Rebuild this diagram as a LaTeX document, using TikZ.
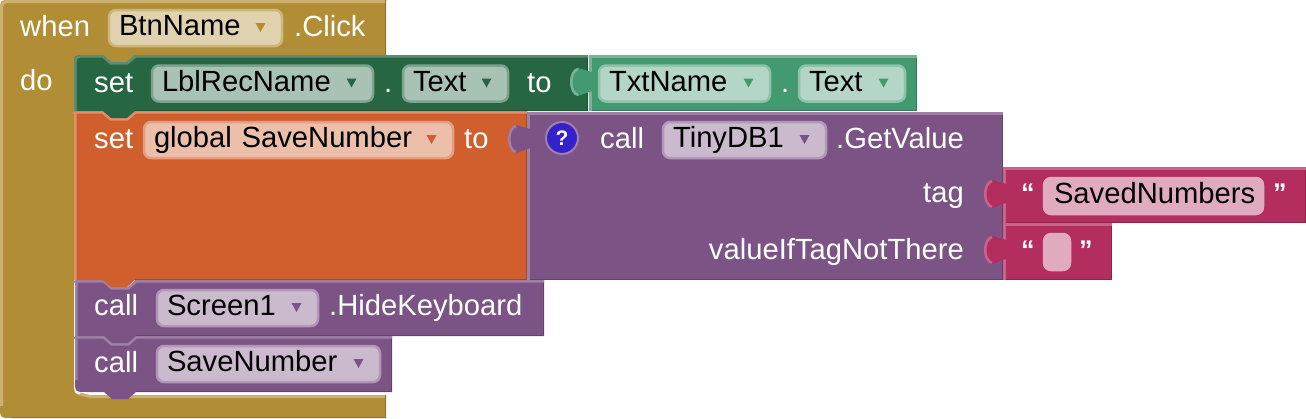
\documentclass[tikz,border=0pt]{standalone}
\usepackage{fontspec}
\setmainfont{Liberation Sans}
\usetikzlibrary{positioning}
\usetikzlibrary{calc}

\definecolor{gold}{HTML}{B18E35}
\definecolor{goldlt}{HTML}{CBB172}
\definecolor{golddk}{HTML}{8E722A}
\definecolor{setgreen}{HTML}{266643}
\definecolor{setgreenlt}{HTML}{5C8C74}
\definecolor{setgreendk}{HTML}{1E5236}
\definecolor{txtgreen}{HTML}{439970}
\definecolor{txtgreenlt}{HTML}{7BB399}
\definecolor{txtgreendk}{HTML}{367A5A}
\definecolor{orange}{HTML}{D05F2D}
\definecolor{orangelt}{HTML}{E38F6B}
\definecolor{orangedk}{HTML}{A64C24}
\definecolor{purple}{HTML}{7C5385}
\definecolor{purplelt}{HTML}{A07FA8}
\definecolor{purpledk}{HTML}{63426A}
\definecolor{pink}{HTML}{B32D5E}
\definecolor{pinklt}{HTML}{CB6389}
\definecolor{pinkdk}{HTML}{8F244B}
\definecolor{helpblue}{HTML}{3322CC}

\tikzset{
  lbl/.style={anchor=base west,inner sep=0pt,text=white,font=\fontsize{29.2}{32}\selectfont},
  lblr/.style={lbl,anchor=base east},
  quotelbl/.style={lbl,font=\fontsize{27}{32}\selectfont\bfseries},
  pill/.style={anchor=west,xshift=1pt,rounded corners=7pt,outer sep=0pt,inner xsep=10pt,inner ysep=4.5pt,
    text height=21pt,text depth=6pt,align=left,line width=2.5pt,text=black,
    font=\fontsize{29.2}{32}\selectfont},
  pillgold/.style={pill,fill=gold!40!white,draw=gold!65!white},
  pilldark/.style={pill,fill=setgreen!40!white,draw=setgreen!60!white},
  pillgreen/.style={pill,fill=txtgreen!40!white,draw=txtgreen!60!white},
  pillorange/.style={pill,fill=orange!40!white,draw=orange!60!white},
  pillpurple/.style={pill,fill=purple!40!white,draw=purple!60!white},
  pillpink/.style={pill,fill=pink!40!white,draw=pink!40!white}
}

% stacked block: colour, left, top, right, bottom, top-left radius, bottom-left radius
\newcommand{\stmtblock}[7]{
  \fill[#1] (#2,{#3+#6}) .. controls (#2,#3) .. ({#2+#6},#3) -- ({#2+29},#3) -- ({#2+37},{#3+7})
    -- ({#2+53},{#3+7}) -- ({#2+61},#3) -- (#4,#3) -- (#4,#5) -- ({#2+61},#5) -- ({#2+53},{#5+7})
    -- ({#2+37},{#5+7}) -- ({#2+29},#5) -- ({#2+#7},#5) .. controls (#2,#5) .. (#2,{#5-#7}) -- cycle;
  \draw[#1dk,line width=1.5pt] ({#4-.75},#3) -- ({#4-.75},{#5-.75}) -- ({#2+61},{#5-.75});
  \draw[#1lt,line width=2.5pt] ({#2+1.25},{#5-#7}) -- ({#2+1.25},{#3+#6+1})
    .. controls ({#2+1.25},{#3+1.25}) .. ({#2+#6+1},{#3+1.25}) -- ({#2+28.5},{#3+1.25})
    -- ({#2+36.5},{#3+8.25}) -- ({#2+53.5},{#3+8.25}) -- ({#2+61.5},{#3+1.25}) -- (#4,{#3+1.25});
}
% value block with its tab on the left: colour, left, top, right, bottom
\newcommand{\valblock}[5]{
  \fill[#1] (#2,#3) rectangle (#4,#5);
  \draw[#1dk,line width=1.5pt] ({#4-.75},#3) -- ({#4-.75},{#5-.75}) -- (#2,{#5-.75});
  \draw[#1lt,line width=2.5pt] ({#2+1.25},#5) -- ({#2+1.25},{#3+1.25}) -- (#4,{#3+1.25});
  \fill[#1] ({#2+3},{#3+17}) -- ({#2-11},{#3+13}) .. controls ({#2-21},{#3+15}) and ({#2-21},{#3+39})
    .. ({#2-11},{#3+41}) -- ({#2+3},{#3+36}) -- cycle;
  \draw[#1lt,line width=2.5pt] ({#2-11},{#3+14}) .. controls ({#2-20},{#3+16}) and ({#2-20},{#3+38}) .. ({#2-11},{#3+40});
}
% little arrow inside a dropdown field
\newcommand{\ddtri}[2]{
  \fill[#2] ($(#1.east)+(-26.5,-5)$) -- ($(#1.east)+(-16.5,-5)$) -- ($(#1.east)+(-21.5,4)$) -- cycle;
}

\begin{document}
\begin{tikzpicture}[x=1pt,y=-1pt]
\useasboundingbox (0,0) rectangle (1306,418);
% event block
\fill[gold] (0,12) .. controls (0,0) .. (12,0) -- (386,0) -- (386,55) -- (135,55) -- (127,62) -- (111,62) -- (103,55)
  -- (88,55) .. controls (74,55) .. (74,69)
  -- (74,381) .. controls (74,395) .. (88,395) -- (386,395) -- (386,418) -- (12,418) .. controls (0,418) .. (0,406) -- cycle;
\draw[goldlt,line width=3pt] (1.5,406) -- (1.5,13) .. controls (1.5,1.5) .. (13,1.5) -- (386,1.5);
\draw[goldlt,line width=3pt] (80,394) -- (90,396.5) -- (386,396.5);
\draw[golddk,line width=1.5pt] (385.25,0) -- (385.25,55);
\draw[golddk,line width=1.5pt] (385.25,395) -- (385.25,417.25) -- (12,417.25);

% statements, last one first
\stmtblock{purple}{75}{336}{392}{392}{0}{12}
\stmtblock{purple}{75}{280}{544}{336}{0}{0}
\stmtblock{orange}{74}{111}{527}{280}{0}{0}
\stmtblock{setgreen}{74}{55}{588}{111}{12}{0}

% value blocks
\valblock{txtgreen}{589}{55}{917}{111}
\valblock{purple}{527}{112}{1003}{280}
\valblock{pink}{1003}{223}{1112}{280}
\valblock{pink}{1003}{167}{1306}{223}

% when row
\node[lbl] (whenlbl) at (20,36) {when};
\node[pillgold,text width=153pt] (btnname) at (108,28) {BtnName};
\ddtri{btnname}{gold}
\node[lbl] (clicklbl) at (294,36) {.Click};
\node[lbl] (dolbl) at (20,90) {do};

% set row
\node[lbl] (setone) at (94,92) {set};
\node[pilldark,text width=201pt] (lblrec) at (151,83.5) {LblRecName};
\ddtri{lblrec}{setgreen}
\node[lbl] (dotone) at (384,92) {.};
\node[pilldark,text width=85pt] (textone) at (402,83.5) {Text};
\ddtri{textone}{setgreen}
\node[lbl] (toone) at (527,92) {to};
\node[pillgreen,text width=151pt] (txtname) at (598,83.5) {TxtName};
\ddtri{txtname}{txtgreen}
\node[lbl] (dottwo) at (781,92) {.};
\node[pillgreen,text width=86pt] (texttwo) at (798,83.5) {Text};
\ddtri{texttwo}{txtgreen}

% set global row
\node[lbl] (settwo) at (94,148) {set};
\node[pillorange,text width=289pt] (globalnum) at (143,140) {global SaveNumber};
\ddtri{globalnum}{orange}
\node[lbl] (totwo) at (464,148) {to};
\node[circle,fill=helpblue,draw=purplelt,line width=2pt,minimum size=32pt,inner sep=0pt,text=white,font=\fontsize{21}{24}\selectfont\bfseries] (helpicon) at (562,138) {?};
\node[lbl] (callone) at (600,148) {call};
\node[pillpurple,text width=143pt] (tinydb) at (662,140) {TinyDB1};
\ddtri{tinydb}{purple}
\node[lbl] (getvalue) at (836,148) {.GetValue};
\node[lblr] (taglbl) at (964,202) {tag};
\node[lblr] (notthere) at (964,259) {valueIfTagNotThere};

% text blocks
\node[quotelbl] (openone) at (1021,202) {“};
\node[pillpink,text width=199pt] (savednum) at (1043,196) {SavedNumbers};
\node[quotelbl] (closeone) at (1273,202) {”};
\node[quotelbl] (opentwo) at (1021,259) {“};
\node[pillpink,text width=6pt] (emptytxt) at (1043,252) {};
\node[quotelbl] (closetwo) at (1079,259) {”};

% calls
\node[lbl] (calltwo) at (94,315) {call};
\node[pillpurple,text width=141pt] (screenone) at (156,308) {Screen1};
\ddtri{screenone}{purple}
\node[lbl] (hidekb) at (329,315) {.HideKeyboard};
\node[lbl] (callthree) at (94,372) {call};
\node[pillpurple,text width=203pt] (savenum) at (156,364) {SaveNumber};
\ddtri{savenum}{purple}
\end{tikzpicture}
\end{document}
